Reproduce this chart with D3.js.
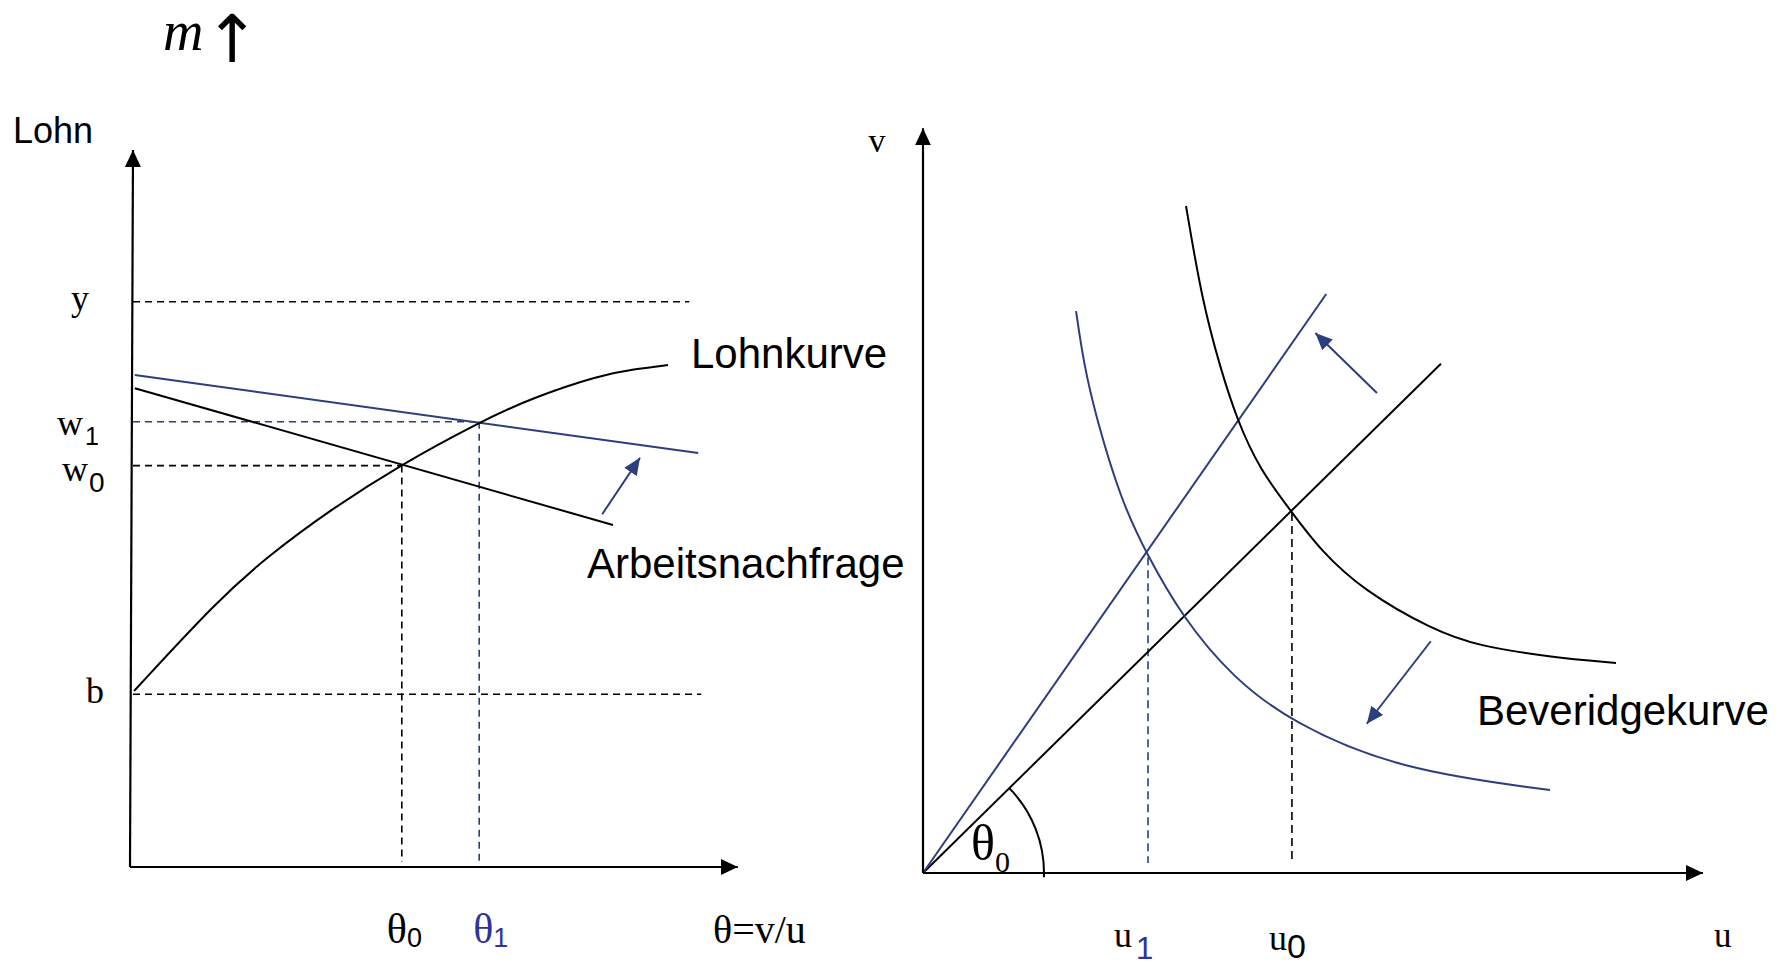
<!DOCTYPE html>
<html>
<head>
<meta charset="utf-8">
<script src="https://cdn.jsdelivr.net/npm/d3@7"></script>
<style>
  html, body { margin: 0; padding: 0; background: #fff; }
  svg { display: block; }
</style>
</head>
<body>
<svg id="chart" width="1783" height="966"></svg>
<script>
// ---------------- DATA (domain units, 0..10 on every axis) ----------------
// Left panel: wage (Lohn) vs. labour market tightness theta = v/u
const levelNames = ["y", "b"];
const levelValues = [9.42, 2.88];
const levelEnds = [9.27, 9.47];

const thetaEq = [4.48, 5.77];          // theta0, theta1
const wageEq = [6.69, 7.42];           // w0, w1
const eqLabels = ["0", "1"];

const demandOldTheta = [0.03, 8.0];
const demandOldWage = [7.98, 5.7];
const demandNewTheta = [0.03, 9.42];
const demandNewWage = [8.2, 6.9];

const wageCurveTheta = [0.017, 1.417, 2.233, 3.283, 4.483, 5.75, 6.6, 7.783, 8.383, 8.917];
const wageCurveWage  = [2.933, 4.45, 5.167, 5.95, 6.717, 7.4, 7.8, 8.2, 8.3, 8.367];

const shiftLeftTail = [7.82, 5.88];
const shiftLeftTip  = [8.45, 6.82];

// Right panel: vacancies v vs. unemployment u
const rayOldEnd = [6.64, 6.79];
const rayNewEnd = [5.17, 7.72];

const bevOldU = [3.372, 3.577, 3.808, 4.026, 4.321, 4.718, 5.090, 5.654, 6.538, 7.115, 8.038, 8.885];
const bevOldV = [8.893, 7.640, 6.747, 6.040, 5.373, 4.827, 4.307, 3.760, 3.240, 3.027, 2.880, 2.800];
const bevNewU = [1.962, 2.064, 2.218, 2.538, 2.859, 3.333, 3.962, 4.731, 6.115, 8.038];
const bevNewV = [7.493, 6.773, 6.080, 4.973, 4.267, 3.400, 2.613, 2.000, 1.373, 1.107];

const uEq = [4.73, 2.885];             // u0, u1
const uEqTop = [4.8, 4.21];

const rayShiftTail = [5.82, 6.40];
const rayShiftTip  = [5.03, 7.20];
const bevShiftTail = [6.51, 3.09];
const bevShiftTip  = [5.69, 1.99];

// ---------------- STYLE ----------------
const BLACK = "#000000";
const NAVY = "#2C3E7E";
const LABEL_BLUE = "#2E3399";
const SANS = "'Liberation Sans', Arial, sans-serif";
const SERIF = "'Liberation Serif', 'Times New Roman', serif";

const svg = d3.select("#chart");

// ---------------- SCALES ----------------
const xL = d3.scaleLinear().domain([0, 10]).range([133, 733]);
const yL = d3.scaleLinear().domain([0, 10]).range([867, 267]);
const xR = d3.scaleLinear().domain([0, 10]).range([923, 1703]);
const yR = d3.scaleLinear().domain([0, 10]).range([873, 123]);

// ---------------- MARKERS ----------------
const defs = svg.append("defs");
function marker(id, color, len, wid) {
  defs.append("marker")
    .attr("id", id)
    .attr("markerUnits", "userSpaceOnUse")
    .attr("markerWidth", len).attr("markerHeight", wid)
    .attr("refX", len).attr("refY", wid / 2)
    .attr("orient", "auto")
    .append("path")
    .attr("d", `M0,0L${len},${wid / 2}L0,${wid}Z`)
    .attr("fill", color);
}
marker("axisHead", BLACK, 17, 16);
marker("navyHead", NAVY, 17, 15);

const line = d3.line();
const curve = d3.line().curve(d3.curveBasis);

function seg(g, p0, p1, color, width, dash, mk) {
  const p = g.append("path")
    .attr("d", line([p0, p1]))
    .attr("fill", "none")
    .attr("stroke", color)
    .attr("stroke-width", width);
  if (dash) p.attr("stroke-dasharray", dash);
  if (mk) p.attr("marker-end", `url(#${mk})`);
  return p;
}

function label(x, y, parts, anchor) {
  const t = svg.append("text").attr("x", x).attr("y", y);
  if (anchor) t.attr("text-anchor", anchor);
  parts.forEach(pt => {
    const s = t.append("tspan").text(pt.t)
      .attr("font-family", pt.f || SERIF)
      .attr("font-size", pt.s)
      .attr("fill", pt.c || BLACK);
    if (pt.dy) s.attr("dy", pt.dy);
    if (pt.dx) s.attr("dx", pt.dx);
    if (pt.i) s.attr("font-style", "italic");
  });
  return t;
}

// ================= LEFT PANEL =================
const gL = svg.append("g");

// dashed level lines y and b
levelValues.forEach((v, i) => {
  seg(gL, [xL(0), yL(v)], [xL(levelEnds[i]), yL(v)], BLACK, 1.6, "7,5");
});
// equilibrium dashed guides
thetaEq.forEach((th, i) => {
  const col = i === 0 ? BLACK : NAVY;
  seg(gL, [xL(0), yL(wageEq[i])], [xL(th), yL(wageEq[i])], col, 1.6, "7,5");
  seg(gL, [xL(th), yL(wageEq[i])], [xL(th), yL(0) - 5], col, 1.6, "7,5");
});

// labour demand curves
seg(gL, [xL(demandOldTheta[0]), yL(demandOldWage[0])], [xL(demandOldTheta[1]), yL(demandOldWage[1])], BLACK, 2);
seg(gL, [xL(demandNewTheta[0]), yL(demandNewWage[0])], [xL(demandNewTheta[1]), yL(demandNewWage[1])], NAVY, 2);

// wage curve
gL.append("path")
  .attr("d", curve(wageCurveTheta.map((t, i) => [xL(t), yL(wageCurveWage[i])])))
  .attr("fill", "none").attr("stroke", BLACK).attr("stroke-width", 2);

// shift arrow
seg(gL, [xL(shiftLeftTail[0]), yL(shiftLeftTail[1])], [xL(shiftLeftTip[0]), yL(shiftLeftTip[1])], NAVY, 2, null, "navyHead");

// axes
seg(gL, [130, yL(0)], [133, yL(11.95)], BLACK, 2.2, null, "axisHead");
seg(gL, [130, yL(0)], [xL(10.08), yL(0)], BLACK, 2.2, null, "axisHead");

// ================= RIGHT PANEL =================
const gR = svg.append("g");

// dashed guides
uEq.forEach((u, i) => {
  const col = i === 0 ? BLACK : NAVY;
  seg(gR, [xR(u), yR(uEqTop[i])], [xR(u), yR(0) - 10], col, 1.6, "8,5");
});

// rays
seg(gR, [xR(0), yR(0)], [xR(rayOldEnd[0]), yR(rayOldEnd[1])], BLACK, 2);
seg(gR, [xR(0), yR(0)], [xR(rayNewEnd[0]), yR(rayNewEnd[1])], NAVY, 2);

// Beveridge curves
gR.append("path")
  .attr("d", curve(bevOldU.map((u, i) => [xR(u), yR(bevOldV[i])])))
  .attr("fill", "none").attr("stroke", BLACK).attr("stroke-width", 2);
gR.append("path")
  .attr("d", curve(bevNewU.map((u, i) => [xR(u), yR(bevNewV[i])])))
  .attr("fill", "none").attr("stroke", NAVY).attr("stroke-width", 2);

// shift arrows
seg(gR, [xR(rayShiftTail[0]), yR(rayShiftTail[1])], [xR(rayShiftTip[0]), yR(rayShiftTip[1])], NAVY, 2, null, "navyHead");
seg(gR, [xR(bevShiftTail[0]), yR(bevShiftTail[1])], [xR(bevShiftTip[0]), yR(bevShiftTip[1])], NAVY, 2, null, "navyHead");

// angle arc theta0
const ang = Math.atan2(yR(0) - yR(rayOldEnd[1]), xR(rayOldEnd[0]) - xR(0));
const arcPath = d3.path();
arcPath.arc(xR(0), yR(0), 121, -ang, 0.035, false);
gR.append("path").attr("d", arcPath.toString())
  .attr("fill", "none").attr("stroke", BLACK).attr("stroke-width", 2);

// axes
seg(gR, [xR(0), yR(0)], [xR(0), yR(9.93)], BLACK, 2.2, null, "axisHead");
seg(gR, [xR(0), yR(0)], [xR(10), yR(0)], BLACK, 2.2, null, "axisHead");

// ================= TEXT =================
// title m↑ (one text element)
label(163, 50, [
  {t: "m", s: 56, i: true},
  {t: "\u2191", s: 66, f: "'DejaVu Sans', sans-serif", dy: 12, dx: 1}
]);

label(13, 143, [{t: "Lohn", s: 36, f: SANS}]);

// left value labels
label(80, yL(levelValues[0]) + 8, [{t: levelNames[0], s: 36}], "middle");
label(95, yL(levelValues[1]) + 9, [{t: levelNames[1], s: 36}], "middle");
label(57, yL(wageEq[1]) + 13, [{t: "w", s: 36}, {t: eqLabels[1], s: 25, f: SANS, dy: 10, dx: 2}]);
label(62, yL(wageEq[0]) + 15, [{t: "w", s: 36}, {t: eqLabels[0], s: 28, f: SANS, dy: 11, dx: 1}]);

// theta labels under left axis
label(xL(thetaEq[0]) - 15, 943, [{t: "\u03B8", s: 42}, {t: eqLabels[0], s: 27, f: SANS, dy: 4}]);
label(xL(thetaEq[1]) - 6, 943, [{t: "\u03B8", s: 42, c: LABEL_BLUE}, {t: eqLabels[1], s: 27, f: SANS, dy: 4, c: LABEL_BLUE}]);
label(713, 943, [{t: "\u03B8=v/u", s: 40}]);

// curve names
label(691, 368, [{t: "Lohnkurve", s: 42, f: SANS}]);
label(587, 578, [{t: "Arbeitsnachfrage", s: 42, f: SANS}]);
label(1477, 725, [{t: "Beveridgekurve", s: 42, f: SANS}]);

// right axis labels
label(877, 152, [{t: "v", s: 34}], "middle");
label(1714, 947, [{t: "u", s: 35}]);
label(xR(uEq[1]) - 34, 947, [{t: "u", s: 36}, {t: eqLabels[1], s: 31, f: SANS, dy: 12, dx: 4, c: LABEL_BLUE}]);
label(xR(uEq[0]) - 23, 950, [{t: "u", s: 36}, {t: eqLabels[0], s: 34, f: SANS, dy: 8, dx: 0}]);

// theta0 in the angle
label(971, 860, [{t: "\u03B8", s: 50}, {t: eqLabels[0], s: 30, dy: 12}]);
</script>
</body>
</html>
